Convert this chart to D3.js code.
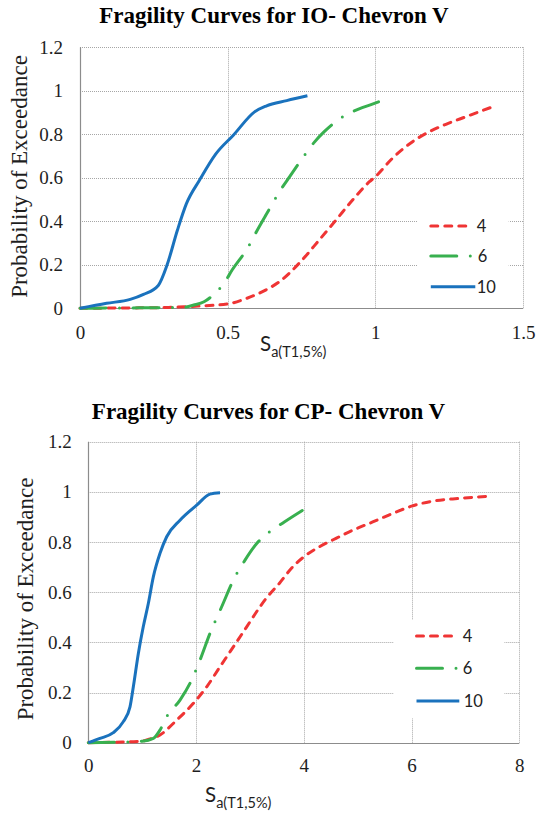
<!DOCTYPE html>
<html>
<head>
<meta charset="utf-8">
<script src="https://cdn.jsdelivr.net/npm/d3@7"></script>
<style>
  html, body { margin: 0; padding: 0; background: #fff; }
  svg { display: block; }
</style>
</head>
<body>
<svg id="chart" width="536" height="813"></svg>
<script>
// ---- Data -------------------------------------------------------------
const seriesNames = ["4", "6", "10"];
const yTicks = [0, 0.2, 0.4, 0.6, 0.8, 1, 1.2];

// Immediate Occupancy (IO)
const ioTitle = "Fragility Curves for IO- Chevron V";
const ioXTicks = [0, 0.5, 1, 1.5];
const ioSa4 = [0, 0.1, 0.2, 0.3, 0.4, 0.5, 0.565, 0.63, 0.675, 0.742, 0.81, 0.867, 0.923, 0.98, 1.0, 1.058, 1.126, 1.183, 1.239, 1.307, 1.392];
const ioP4  = [0, 0.001, 0.002, 0.004, 0.01, 0.02, 0.046, 0.085, 0.122, 0.207, 0.314, 0.406, 0.498, 0.582, 0.605, 0.69, 0.766, 0.812, 0.846, 0.881, 0.924];
const ioSa6 = [0, 0.1, 0.2, 0.3, 0.35, 0.385, 0.42, 0.457, 0.49, 0.515, 0.57, 0.59, 0.63, 0.684, 0.71, 0.765, 0.793, 0.827, 0.9, 0.943, 0.99, 1.036];
const ioP6  = [0, 0.001, 0.002, 0.003, 0.005, 0.015, 0.03, 0.069, 0.12, 0.176, 0.283, 0.334, 0.43, 0.554, 0.605, 0.713, 0.763, 0.812, 0.889, 0.916, 0.939, 0.962];
const ioSa10 = [0, 0.09, 0.17, 0.215, 0.265, 0.295, 0.33, 0.36, 0.405, 0.46, 0.52, 0.59, 0.63, 0.70, 0.77];
const ioP10  = [0, 0.023, 0.041, 0.064, 0.105, 0.2, 0.36, 0.48, 0.59, 0.71, 0.797, 0.902, 0.93, 0.955, 0.977];

// Collapse Prevention (CP)
const cpTitle = "Fragility Curves for CP- Chevron V";
const cpXTicks = [0, 2, 4, 6, 8];
const cpSa4 = [0, 0.5, 1.0, 1.083, 1.331, 1.641, 1.95, 2.198, 2.445, 2.692, 2.94, 3.187, 3.3, 3.545, 3.794, 4.0, 4.288, 4.536, 4.908, 5.279, 5.65, 6.0, 6.392, 6.886, 7.475];
const cpP4  = [0, 0.002, 0.006, 0.011, 0.031, 0.09, 0.157, 0.223, 0.303, 0.382, 0.462, 0.542, 0.575, 0.635, 0.701, 0.741, 0.781, 0.808, 0.847, 0.88, 0.914, 0.943, 0.963, 0.974, 0.983];
const cpSa6 = [0, 0.5, 1.0, 1.207, 1.33, 1.455, 1.702, 1.888, 2.073, 2.259, 2.476, 2.692, 2.909, 3.126, 3.3, 3.638, 3.98];
const cpP6  = [0, 0.002, 0.006, 0.017, 0.05, 0.104, 0.17, 0.237, 0.329, 0.436, 0.542, 0.648, 0.728, 0.794, 0.83, 0.88, 0.927];
const cpSa10 = [0, 0.217, 0.464, 0.65, 0.774, 0.836, 0.929, 1.02, 1.114, 1.207, 1.331, 1.455, 1.702, 2.012, 2.259, 2.445];
const cpP10  = [0, 0.017, 0.04, 0.084, 0.143, 0.223, 0.356, 0.462, 0.555, 0.661, 0.755, 0.821, 0.887, 0.947, 0.991, 0.996];

// ---- Styles -----------------------------------------------------------
const styles = {
  "4":  { color: "#ef3434", dash: "7,7" },
  "6":  { color: "#38b04f", dash: "26,13.5,0,13.5" },
  "10": { color: "#1a72bd", dash: null }
};
const serif = "'Liberation Serif', 'Times New Roman', serif";
const sans = "Lato, 'Liberation Sans', sans-serif";

const svg = d3.select("#chart");

function drawChart(cfg) {
  const g = svg.append("g");
  const x = d3.scaleLinear()
    .domain([cfg.xTicks[0], cfg.xTicks[cfg.xTicks.length - 1]])
    .range([cfg.left, cfg.right]);
  const y = d3.scaleLinear()
    .domain([yTicks[0], yTicks[yTicks.length - 1]])
    .range([cfg.bottom, cfg.top]);

  // dotted gridlines
  const grid = g.append("g").attr("stroke", "#a6a6a6").attr("stroke-width", 1)
    .attr("stroke-dasharray", "1,1");
  grid.selectAll("line.h").data(yTicks.slice(1)).join("line")
    .attr("x1", cfg.left).attr("x2", cfg.right)
    .attr("y1", d => Math.round(y(d)) + 0.5).attr("y2", d => Math.round(y(d)) + 0.5);
  grid.selectAll("line.v").data(cfg.xTicks.slice(1)).join("line")
    .attr("y1", cfg.top).attr("y2", cfg.bottom)
    .attr("x1", d => Math.round(x(d)) + 0.5).attr("x2", d => Math.round(x(d)) + 0.5);

  // legend background covers the grid
  g.append("rect")
    .attr("x", cfg.legend.x0).attr("y", cfg.legend.y0)
    .attr("width", cfg.legend.x1 - cfg.legend.x0)
    .attr("height", cfg.legend.y1 - cfg.legend.y0)
    .attr("fill", "#fff");

  // solid axis lines
  g.append("line").attr("x1", Math.round(cfg.left) + 0.5).attr("x2", Math.round(cfg.left) + 0.5)
    .attr("y1", cfg.top).attr("y2", cfg.bottom + 0.5)
    .attr("stroke", "#8c8c8c").attr("stroke-width", 1.2);
  g.append("line").attr("x1", cfg.left).attr("x2", cfg.right)
    .attr("y1", Math.round(cfg.bottom) + 0.5).attr("y2", Math.round(cfg.bottom) + 0.5)
    .attr("stroke", "#8c8c8c").attr("stroke-width", 1.2);

  // tick labels
  const yAxis = g.append("g").attr("transform", `translate(${cfg.left},0)`)
    .call(d3.axisLeft(y).tickValues(yTicks).tickSize(0).tickPadding(cfg.yPad).tickFormat(d => String(d)));
  const xAxis = g.append("g").attr("transform", `translate(0,${cfg.bottom})`)
    .call(d3.axisBottom(x).tickValues(cfg.xTicks).tickSize(0).tickPadding(cfg.xPad).tickFormat(d => String(d)));
  [yAxis, xAxis].forEach(a => {
    a.attr("font-family", serif).attr("font-size", 19);
    a.select(".domain").remove();
    a.selectAll("text").attr("fill", "#1e1e1e");
  });

  // curves
  const line = d3.line().x(d => x(d[0])).y(d => y(d[1])).curve(d3.curveMonotoneX);
  cfg.series.forEach(s => {
    const st = styles[s.name];
    g.append("path")
      .datum(s.sa.map((v, i) => [v, s.p[i]]))
      .attr("d", line)
      .attr("fill", "none")
      .attr("stroke", st.color)
      .attr("stroke-width", 3)
      .attr("stroke-linecap", st.dash ? "round" : "butt")
      .attr("stroke-linejoin", "round")
      .attr("stroke-dasharray", st.dash);
  });

  // legend
  const lg = g.append("g");
  cfg.series.forEach((s, i) => {
    const st = styles[s.name];
    const ly = cfg.legend.rows[i];
    lg.append("line")
      .attr("x1", cfg.legend.lx + 1.5).attr("x2", cfg.legend.lx + cfg.legend.lens[i])
      .attr("y1", ly).attr("y2", ly)
      .attr("stroke", st.color).attr("stroke-width", 3)
      .attr("stroke-linecap", st.dash ? "round" : "butt")
      .attr("stroke-dasharray", st.dash);
    lg.append("text")
      .attr("x", cfg.legend.tx[i]).attr("y", ly).attr("dy", "0.36em")
      .attr("font-family", sans).attr("font-size", 16.5).attr("fill", "#222")
      .text(s.name);
  });

  // title
  g.append("text")
    .attr("x", cfg.titleX).attr("y", cfg.titleY)
    .attr("text-anchor", "middle")
    .attr("font-family", serif).attr("font-weight", "bold").attr("font-size", 23)
    .attr("fill", "#000")
    .text(cfg.title);

  // y-axis title
  g.append("text")
    .attr("transform", `translate(${cfg.yTitleX},${cfg.yTitleY}) rotate(-90)`)
    .attr("text-anchor", "middle")
    .attr("font-family", serif).attr("font-size", 23).attr("fill", "#1e1e1e")
    .text("Probability of Exceedance");

  // x-axis title S_a(T1,5%)
  const xt = g.append("text")
    .attr("x", cfg.xTitleX).attr("y", cfg.xTitleY)
    .attr("font-family", sans).attr("fill", "#1e1e1e");
  xt.append("tspan").attr("font-size", 20.5).text("S");
  xt.append("tspan").attr("font-size", 14.5).attr("dy", 6).text("a(T1,5%)");
}

drawChart({
  title: ioTitle, titleX: 274, titleY: 23,
  xTicks: ioXTicks,
  left: 80, right: 523, top: 47.3, bottom: 308.3,
  yPad: 17, xPad: 17,
  yTitleX: 26.5, yTitleY: 176.5, xTitleX: 260, xTitleY: 350.5,
  series: [
    { name: seriesNames[0], sa: ioSa4, p: ioP4 },
    { name: seriesNames[1], sa: ioSa6, p: ioP6 },
    { name: seriesNames[2], sa: ioSa10, p: ioP10 }
  ],
  legend: {
    x0: 417.7, x1: 508.7, y0: 208, y1: 304,
    lx: 429.3, lens: [38.5, 43, 46],
    rows: [226, 256, 286.7],
    tx: [476.7, 477.7, 476.7]
  }
});

drawChart({
  title: cpTitle, titleX: 268.5, titleY: 418.5,
  xTicks: cpXTicks,
  left: 88.3, right: 519.3, top: 441.7, bottom: 742.7,
  yPad: 16.6, xPad: 16.2,
  yTitleX: 33.3, yTitleY: 599, xTitleX: 205, xTitleY: 801.7,
  series: [
    { name: seriesNames[0], sa: cpSa4, p: cpP4 },
    { name: seriesNames[1], sa: cpSa6, p: cpP6 },
    { name: seriesNames[2], sa: cpSa10, p: cpP10 }
  ],
  legend: {
    x0: 393.7, x1: 504.3, y0: 620, y1: 718.3,
    lx: 415, lens: [38, 43, 44.3],
    rows: [636, 668.3, 701],
    tx: [462.7, 462.7, 463.7]
  }
});
</script>
</body>
</html>
